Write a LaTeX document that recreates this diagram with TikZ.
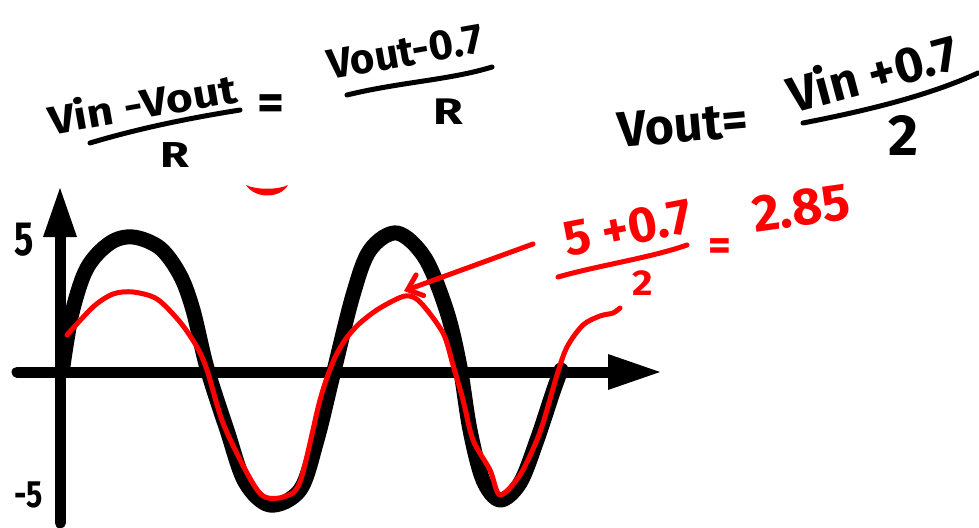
\documentclass[tikz,border=0pt]{standalone}
\usepackage{fontspec}
\setmainfont{Fira Sans}
\usepackage{graphicx}
\usetikzlibrary{arrows.meta}
\newcommand{\hsq}[2]{\scalebox{#1}[1]{#2}}
\begin{document}
\begin{tikzpicture}[x=1pt,y=-1pt,
  ink/.style={line width=5pt, line cap=round, line join=round},
  axisline/.style={line width=11pt, line cap=round},
  wave/.style={line width=15pt, line cap=round, line join=round},
  redwave/.style={red, line width=5pt, line cap=round, line join=round},
  txt/.style={inner sep=0pt, font=\bfseries\fontsize{#1}{#1}\selectfont},
  rtxt/.style={inner sep=0pt, text=red, font=\bfseries\fontsize{#1}{#1}\selectfont}]
\useasboundingbox (0,0) rectangle (979,527);

% ---- black equations
\node[txt=40, rotate=10] (e1) at (142,103) {\hsq{1.15}{Vin -Vout}};
\coordinate (f1a) at (90,143); \coordinate (f1b) at (240,110);
\draw[ink] (f1a) .. controls (140,128) and (190,118) .. (f1b);
\node[txt=36] (r1) at (175,155) {\hsq{1.3}{R}};
\node[txt=52] (eq1) at (271,108) {=};
\node[txt=42, rotate=10] (e2) at (405,52) {Vout-0.7};
\coordinate (f2a) at (347,95); \coordinate (f2b) at (492,67);
\draw[ink] (f2a) .. controls (400,82) and (450,80) .. (f2b);
\node[txt=37] (r2) at (448,112) {\hsq{1.3}{R}};

\node[txt=50, rotate=5] (e3) at (683,125) {Vout=};
\node[txt=50, rotate=15] (e4) at (872,72) {Vin +0.7};
\coordinate (f3a) at (803,123); \coordinate (f3b) at (978,73);
\draw[ink] (f3a) .. controls (870,110) and (930,95) .. (f3b);
\node[txt=58] (two1) at (903,135) {2};

% ---- axes
\coordinate (ytop) at (60,188);
\coordinate (ybot) at (60,523);
\coordinate (xleft) at (17,372);
\coordinate (xright) at (660,372);
\draw[axisline] (ybot) -- (60,230);
\fill (43,237) -- (ytop) -- (77,237) -- cycle;
\draw[axisline] (xleft) -- (615,372);
\fill (608,354) -- (xright) -- (608,390) -- cycle;
\node[txt=48] (l5) at (24,240) {\hsq{0.75}{5}};
\node[txt=38] (lm5) at (29,495) {\hsq{0.8}{-5}};

% ---- black input wave
\draw[wave] plot[smooth, tension=0.55] coordinates {
 (63,366) (72,313) (87,268) (110,243) (133,237) (160,248) (180,275) (193,310)
 (207,368) (227,430) (245,482) (270,505) (300,490) (317,440) (333,375) (353,295)
 (370,250) (397,233) (425,258) (447,312) (460,367) (470,430) (483,480) (500,500)
 (520,483) (537,440) (553,392) (561,370)};

% ---- red output wave
\draw[redwave] plot[smooth, tension=0.5] coordinates {
 (67,335) (93,307) (113,294) (133,292) (157,299) (180,322) (197,347) (207,370)
 (223,423) (247,473) (263,496) (283,497) (300,482) (320,400) (333,362) (345,340)
 (360,323) (380,308) (405,296) (420,302) (443,333) (453,365) (463,400) (473,440)
 (490,470) (500,495) (520,475) (540,432) (557,375) (567,347) (583,325) (600,316)
 (613,313) (620,308)};

% small red mark at top
\fill[red] (246,185) .. controls (255,199) and (280,199) .. (288,185)
  .. controls (278,190) and (256,190) .. cycle;

% ---- red annotation
\coordinate (arrowS) at (533,244);
\coordinate (arrowT) at (404,291);
\draw[redwave, -{Straight Barb[length=13pt,width=22pt,line cap=round]}] (arrowS) -- (arrowT);
\node[rtxt=50, rotate=11] (n1) at (628,228) {5 +0.7};
\coordinate (f4a) at (558,277); \coordinate (f4b) at (687,245);
\draw[redwave] (f4a) .. controls (600,265) and (650,258) .. (f4b);
\node[rtxt=36] (two2) at (643,283) {\hsq{1.1}{2}};
\node[rtxt=44] (eq2) at (720,250) {=};
\node[rtxt=52, rotate=8] (res) at (801,208) {2.85};
\end{tikzpicture}
\end{document}
